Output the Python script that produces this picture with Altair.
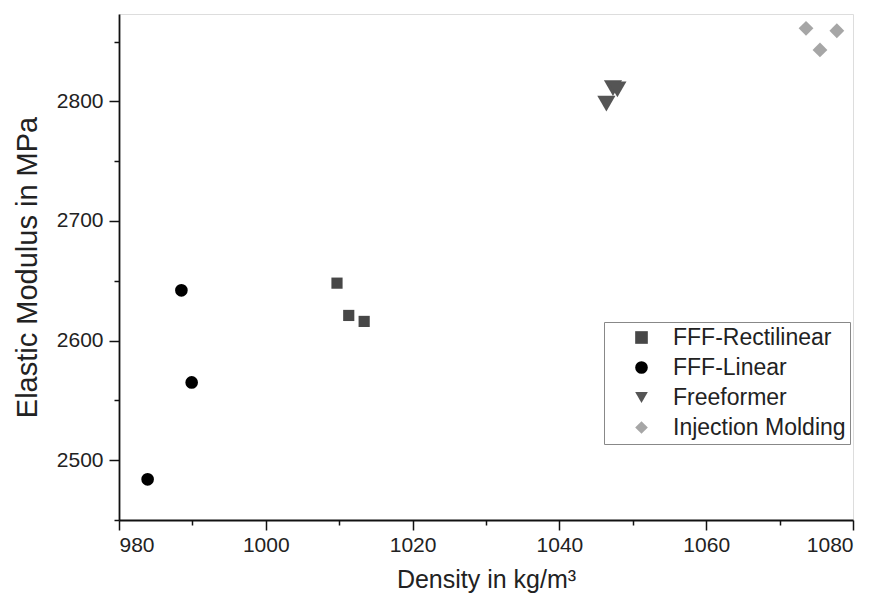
import altair as alt
import pandas as pd

# ---- data ----
series_names = ["FFF-Rectilinear", "FFF-Linear", "Freeformer", "Injection Molding"]
rect_density = [1009.7, 1011.3, 1013.4]
rect_modulus = [2648, 2621, 2616]
lin_density = [988.5, 989.9, 983.9]
lin_modulus = [2642, 2565, 2484]
ff_density = [1046.4, 1047.3, 1047.9]
ff_modulus = [2798, 2811, 2810]
im_density = [1073.6, 1077.8, 1075.5]
im_modulus = [2861, 2859, 2843]

x_major = [980, 1000, 1020, 1040, 1060, 1080]
x_minor = [990, 1010, 1030, 1050, 1070]
y_major = [2500, 2600, 2700, 2800]
y_minor = [2450, 2550, 2650, 2750, 2850]

series_colors = ["#474747", "#000000", "#555555", "#a6a6a6"]
series_shapes = ["square", "circle", "triangle-down", "diamond"]
series_sizes = [125, 160, 330, 220]

rows = []
for name, xs, ys in zip(series_names,
                        [rect_density, lin_density, ff_density, im_density],
                        [rect_modulus, lin_modulus, ff_modulus, im_modulus]):
    for xv, yv in zip(xs, ys):
        rows.append({"series": name, "density": xv, "modulus": yv})
df = pd.DataFrame(rows)

FONT = "Liberation Sans"
xscale = alt.Scale(domain=[980, 1080], nice=False, zero=False)
yscale = alt.Scale(domain=[2450, 2873], nice=False, zero=False)

x_axis = alt.Axis(orient="bottom", values=x_major, format="d",
                  title="Density in kg/m³",
                  grid=False, tickSize=10, tickWidth=1.5, domainWidth=1.8,
                  domainColor="#111", tickColor="#111",
                  labelFontSize=21, labelColor="#222", labelPadding=4,
                  labelFont=FONT, titleFont=FONT, titleFontSize=25,
                  titleFontWeight="normal", titleColor="#222", titlePadding=12)
y_axis = alt.Axis(orient="left", values=y_major, format="d",
                  title="Elastic Modulus in MPa",
                  grid=False, tickSize=10, tickWidth=1.5, domainWidth=1.8,
                  domainColor="#111", tickColor="#111",
                  labelFontSize=21, labelColor="#222", labelPadding=6,
                  labelFont=FONT, titleFont=FONT, titleFontSize=29,
                  titleFontWeight="normal", titleColor="#222", titlePadding=14)
legend = alt.Legend(orient="none", legendX=485, legendY=308,
                    padding=4, symbolOffset=22, labelOffset=20,
                    rowPadding=6, symbolSize=160,
                    labelFontSize=23, labelFont=FONT, labelColor="#222",
                    strokeColor="#888", fillColor="white",
                    symbolStrokeWidth=0, labelLimit=400)

color_enc = alt.Color("series:N", scale=alt.Scale(domain=series_names, range=series_colors),
                      title=None, legend=legend)
shape_enc = alt.Shape("series:N", scale=alt.Scale(domain=series_names, range=series_shapes),
                      title=None)

layers = []
for i, name in enumerate(series_names):
    first = i == 0
    layers.append(
        alt.Chart(df).transform_filter(alt.datum.series == name)
        .mark_point(filled=True, opacity=1, strokeWidth=0, size=series_sizes[i])
        .encode(
            x=alt.X("density:Q", scale=xscale, axis=x_axis if first else None),
            y=alt.Y("modulus:Q", scale=yscale, axis=y_axis if first else None),
            color=color_enc,
            shape=shape_enc,
        )
    )

minor = alt.Chart(df).mark_point(opacity=0).encode(
    x=alt.X("density:Q", scale=xscale,
            axis=alt.Axis(orient="bottom", values=x_minor, title=None, labels=False,
                          domain=False, grid=False, tickSize=5, tickWidth=1.5,
                          tickColor="#111")),
    y=alt.Y("modulus:Q", scale=yscale,
            axis=alt.Axis(orient="left", values=y_minor, title=None, labels=False,
                          domain=False, grid=False, tickSize=5, tickWidth=1.5,
                          tickColor="#111")),
)

chart = alt.layer(*layers, minor).resolve_axis(x="independent", y="independent").properties(
    width=734, height=506,
    padding={"left": 111, "top": 6, "right": 18, "bottom": 76},
    autosize=alt.AutoSizeParams(type="none"),
).configure_view(stroke=None).configure(font=FONT, background="white")

chart.save("out.html", embed_options={"renderer": "svg", "actions": False})
